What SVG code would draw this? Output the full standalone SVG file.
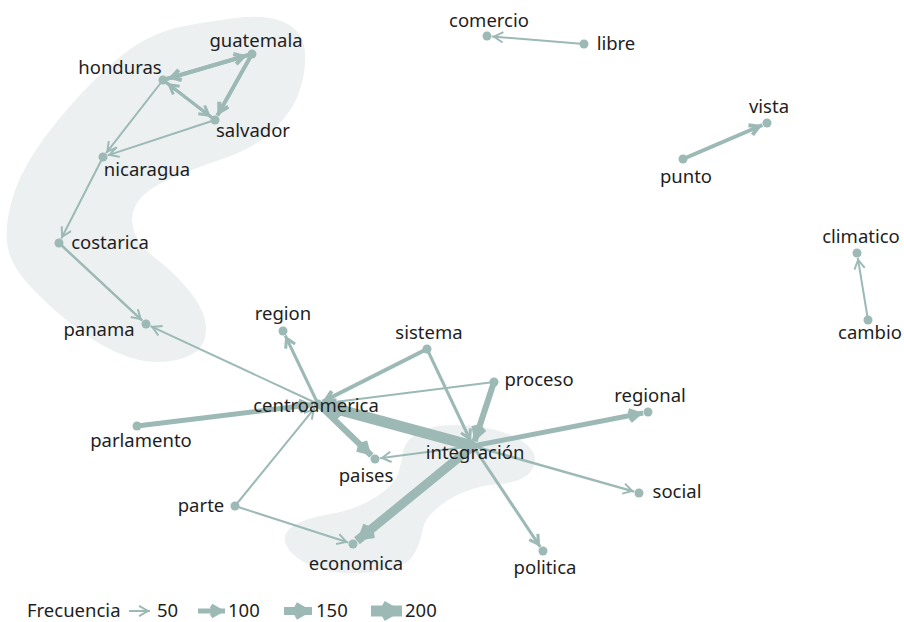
<svg xmlns="http://www.w3.org/2000/svg" width="904" height="622" viewBox="0 0 904 622">
<style>
.hull{fill:#edf0f1;stroke:none}
.e{fill:none;stroke:#9cb9b5;stroke-linecap:butt}
.w2{stroke-width:2}.w3{stroke-width:3}.w4{stroke-width:4}.w5{stroke-width:5}.w6{stroke-width:6}.w8{stroke-width:8}.w9{stroke-width:9}.w11{stroke-width:11}
.dot{fill:#9cb9b5}
text{font-family:"Noto Sans","Liberation Sans",sans-serif;font-size:18.5px;fill:#1e1e1e;text-anchor:middle}
.lg{text-anchor:start}
</style>
<defs>
<marker id="a2" markerUnits="userSpaceOnUse" markerWidth="1" markerHeight="1" refX="2" refY="0" orient="auto" overflow="visible"><path d="M-9,-5.2L0,0L-9,5.2" fill="none" stroke="#9cb9b5" stroke-width="2"/></marker>
<marker id="a3" markerUnits="userSpaceOnUse" markerWidth="1" markerHeight="1" refX="3" refY="0" orient="auto" overflow="visible"><path d="M-9,-5.2L0,0L-9,5.2" fill="none" stroke="#9cb9b5" stroke-width="3"/></marker>
<marker id="a4" markerUnits="userSpaceOnUse" markerWidth="1" markerHeight="1" refX="4" refY="0" orient="auto" overflow="visible"><path d="M-9,-5.2L0,0L-9,5.2" fill="none" stroke="#9cb9b5" stroke-width="4"/></marker>
<marker id="a5" markerUnits="userSpaceOnUse" markerWidth="1" markerHeight="1" refX="5" refY="0" orient="auto" overflow="visible"><path d="M-9,-5.2L0,0L-9,5.2" fill="none" stroke="#9cb9b5" stroke-width="5"/></marker>
<marker id="a6" markerUnits="userSpaceOnUse" markerWidth="1" markerHeight="1" refX="6" refY="0" orient="auto" overflow="visible"><path d="M-9,-5.2L0,0L-9,5.2" fill="none" stroke="#9cb9b5" stroke-width="6"/></marker>
<marker id="a8" markerUnits="userSpaceOnUse" markerWidth="1" markerHeight="1" refX="8" refY="0" orient="auto" overflow="visible"><path d="M-9,-5.2L0,0L-9,5.2" fill="none" stroke="#9cb9b5" stroke-width="8"/></marker>
<marker id="a9" markerUnits="userSpaceOnUse" markerWidth="1" markerHeight="1" refX="9" refY="0" orient="auto" overflow="visible"><path d="M-9,-5.2L0,0L-9,5.2" fill="none" stroke="#9cb9b5" stroke-width="9"/></marker>
<marker id="a11" markerUnits="userSpaceOnUse" markerWidth="1" markerHeight="1" refX="11" refY="0" orient="auto" overflow="visible"><path d="M-9,-5.2L0,0L-9,5.2" fill="none" stroke="#9cb9b5" stroke-width="11"/></marker>
</defs>
<rect width="904" height="622" fill="#ffffff"/>
<g id="hulls">
<path class="hull" d="M235,18 Q265,14 283.5,22 Q302,30 304.5,48 Q307,66 300.5,88 Q294,110 274.5,129 Q255,148 225,158 Q195,168 170,179 Q145,190 137,203 Q129,216 134,231 Q139,247 161,262.5 Q180,278 193.5,296.5 Q207,315 206,331 Q205,347 191.5,354.5 Q178,362 158,362 Q138,362 115.5,352 Q93,342 67.5,321 Q42,300 25.5,281 Q9,262 7,242 Q5,222 13.5,195 Q22,168 45,137 Q68,106 95.5,79 Q123,52 143,41 Q163,30 184,26 Q205,22 235,18 Z"/>
<path class="hull" d="M420,431.5 Q435,423 467.5,425.5 Q500,428 520,440 Q540,452 533.5,467 Q527,482 498.5,484 Q470,486 447.5,500.5 Q425,515 422.5,530 Q420,545 412.5,556.5 Q405,568 372.5,572 Q340,576 317.5,568 Q295,560 287.5,547.5 Q280,535 292.5,526.5 Q305,518 330,514 Q355,510 375,497.5 Q395,485 398.5,472.5 Q402,460 403.5,450 Q405,440 420,431.5 Z"/>
</g>
<g id="edges">
<line class="e w4" x1="163" y1="80" x2="247.2" y2="55.4" marker-end="url(#a4)"/>
<line class="e w4" x1="252" y1="54" x2="167.8" y2="78.6" marker-end="url(#a4)"/>
<line class="e w3" x1="163" y1="80" x2="211" y2="116.9" marker-end="url(#a3)"/>
<line class="e w3" x1="215" y1="120" x2="167" y2="83.1" marker-end="url(#a3)"/>
<line class="e w4" x1="252" y1="54" x2="217.4" y2="115.6" marker-end="url(#a4)"/>
<line class="e w2" x1="163" y1="80" x2="106.1" y2="153.1" marker-end="url(#a2)"/>
<line class="e w2" x1="215" y1="120" x2="107.7" y2="155.4" marker-end="url(#a2)"/>
<line class="e w2" x1="103" y1="157" x2="61.3" y2="238.5" marker-end="url(#a2)"/>
<line class="e w2" x1="59" y1="243" x2="142.3" y2="320.6" marker-end="url(#a2)" style="stroke-width:2.5"/>
<line class="e w2" x1="318" y1="404" x2="150.5" y2="326.1" marker-end="url(#a2)"/>
<line class="e w3" x1="318" y1="404" x2="285.2" y2="335.5" marker-end="url(#a3)"/>
<line class="e w4" x1="427" y1="349" x2="322.5" y2="401.7" marker-end="url(#a4)"/>
<line class="e w2" x1="494" y1="382" x2="323" y2="403.4" marker-end="url(#a2)"/>
<line class="e w5" x1="137" y1="426" x2="313" y2="404.6" marker-end="url(#a5)"/>
<line class="e w2" x1="235" y1="506" x2="314.8" y2="407.9" marker-end="url(#a2)"/>
<line class="e w2" x1="235" y1="506" x2="348.2" y2="542.5" marker-end="url(#a2)"/>
<line class="e w11" x1="473" y1="446" x2="322.8" y2="405.3" marker-end="url(#a11)"/>
<line class="e w6" x1="318" y1="404" x2="371.4" y2="455.5" marker-end="url(#a6)"/>
<line class="e w2" x1="473" y1="446" x2="380" y2="458.3" marker-end="url(#a2)"/>
<line class="e w3" x1="427" y1="349" x2="470.9" y2="441.5" marker-end="url(#a3)"/>
<line class="e w6" x1="494" y1="382" x2="474.6" y2="441.3" marker-end="url(#a6)"/>
<line class="e w5" x1="473" y1="446" x2="643.1" y2="413" marker-end="url(#a5)"/>
<line class="e w2" x1="473" y1="446" x2="634.2" y2="491.6" marker-end="url(#a2)" style="stroke-width:2.5"/>
<line class="e w3" x1="473" y1="446" x2="540.2" y2="546.8" marker-end="url(#a3)"/>
<line class="e w9" x1="473" y1="446" x2="356.9" y2="540.8" marker-end="url(#a9)"/>
<line class="e w2" x1="584" y1="44" x2="492" y2="36.4" marker-end="url(#a2)"/>
<line class="e w4" x1="683" y1="159" x2="762.4" y2="125" marker-end="url(#a4)"/>
<line class="e w2" x1="868" y1="320" x2="857.8" y2="257.9" marker-end="url(#a2)"/>
</g>
<g id="n-guatemala"><circle class="dot" cx="252" cy="54" r="4.5"/><text x="256" y="47">guatemala</text></g>
<g id="n-honduras"><circle class="dot" cx="163" cy="80" r="4.5"/><text x="120" y="74">honduras</text></g>
<g id="n-salvador"><circle class="dot" cx="215" cy="120" r="4.5"/><text x="253" y="137">salvador</text></g>
<g id="n-nicaragua"><circle class="dot" cx="103" cy="157" r="4.5"/><text x="147" y="176">nicaragua</text></g>
<g id="n-costarica"><circle class="dot" cx="59" cy="243" r="4.5"/><text x="110" y="249">costarica</text></g>
<g id="n-panama"><circle class="dot" cx="146" cy="324" r="4.5"/><text x="99" y="336">panama</text></g>
<g id="n-comercio"><circle class="dot" cx="487" cy="36" r="4.5"/><text x="489" y="27">comercio</text></g>
<g id="n-libre"><circle class="dot" cx="584" cy="44" r="4.5"/><text x="616" y="50">libre</text></g>
<g id="n-vista"><circle class="dot" cx="767" cy="123" r="4.5"/><text x="769" y="113">vista</text></g>
<g id="n-punto"><circle class="dot" cx="683" cy="159" r="4.5"/><text x="686" y="183">punto</text></g>
<g id="n-climatico"><circle class="dot" cx="857" cy="253" r="4.5"/><text x="861" y="243">climatico</text></g>
<g id="n-cambio"><circle class="dot" cx="868" cy="320" r="4.5"/><text x="870" y="339">cambio</text></g>
<g id="n-region"><circle class="dot" cx="283" cy="331" r="4.5"/><text x="283" y="320">region</text></g>
<g id="n-sistema"><circle class="dot" cx="427" cy="349" r="4.5"/><text x="429" y="339">sistema</text></g>
<g id="n-proceso"><circle class="dot" cx="494" cy="382" r="4.5"/><text x="539" y="386">proceso</text></g>
<g id="n-centroamerica"><circle class="dot" cx="318" cy="404" r="4.5"/><text x="316" y="412">centroamerica</text></g>
<g id="n-regional"><circle class="dot" cx="648" cy="412" r="4.5"/><text x="650" y="402">regional</text></g>
<g id="n-parlamento"><circle class="dot" cx="137" cy="426" r="4.5"/><text x="141" y="447">parlamento</text></g>
<g id="n-integracion"><circle class="dot" cx="473" cy="446" r="4.5"/><text x="475" y="459">integración</text></g>
<g id="n-paises"><circle class="dot" cx="375" cy="459" r="4.5"/><text x="366" y="482">paises</text></g>
<g id="n-social"><circle class="dot" cx="639" cy="493" r="4.5"/><text x="677" y="498">social</text></g>
<g id="n-parte"><circle class="dot" cx="235" cy="506" r="4.5"/><text x="201" y="512">parte</text></g>
<g id="n-economica"><circle class="dot" cx="353" cy="544" r="4.5"/><text x="356" y="570">economica</text></g>
<g id="n-politica"><circle class="dot" cx="543" cy="551" r="4.5"/><text x="545" y="574">politica</text></g>
<g id="legend">
<text class="lg" x="27" y="617">Frecuencia</text>
<line class="e w2" x1="129" y1="611" x2="150" y2="611" marker-end="url(#a2)"/>
<text class="lg" x="157" y="617">50</text>
<line class="e w5" x1="198" y1="611" x2="225" y2="611" marker-end="url(#a5)"/>
<text class="lg" x="228" y="617">100</text>
<line class="e w8" x1="284" y1="611" x2="312" y2="611" marker-end="url(#a8)"/>
<text class="lg" x="316" y="617">150</text>
<line class="e w11" x1="371" y1="611" x2="402" y2="611" marker-end="url(#a11)"/>
<text class="lg" x="405" y="617">200</text>
</g>
</svg>
